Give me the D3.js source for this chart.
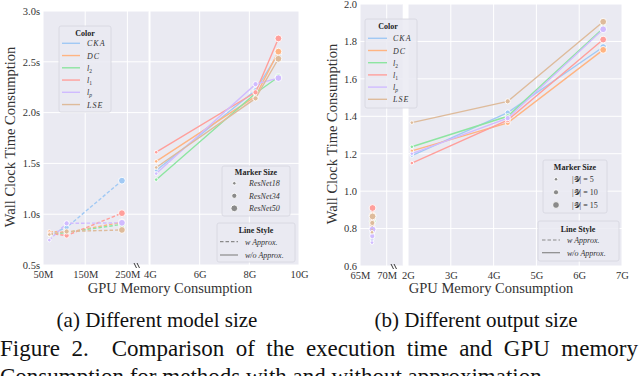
<!DOCTYPE html>
<html>
<head>
<meta charset="utf-8">
<script src="https://cdn.jsdelivr.net/npm/d3@7"></script>
<style>
body { margin: 0; background: #fff; }
svg { display: block; font-family: "Liberation Serif", serif; }
</style>
</head>
<body>
<svg id="canvas"></svg>
<script>
const methods = ["CKA", "DC", "l2", "l1", "lp", "LSE"];
const methodColors = ["#a1c9f4", "#ffb482", "#8de5a1", "#ff9f9b", "#d0bbff", "#debb9b"];
const markerSizes = [1.8, 2.6, 3.4];

// (a) different model size
const modelNames = ["ResNet18", "ResNet34", "ResNet50"];
const modelMemApprox = [65e6, 106e6, 237e6];
const modelMemExact = [4.25e9, 8.25e9, 9.17e9];
const modelTimeApprox = [
    [0.80, 0.87, 1.33],
    [0.83, 0.82, 0.92],
    [0.80, 0.82, 0.90],
    [0.81, 0.79, 1.01],
    [0.745, 0.91, 0.915],
    [0.80, 0.83, 0.845]
];
const modelTimeExact = [
    [1.43, 2.22, 2.58],
    [1.52, 2.16, 2.60],
    [1.34, 2.19, 2.35],
    [1.61, 2.20, 2.73],
    [1.40, 2.28, 2.34],
    [1.46, 2.14, 2.53]
];

// (b) different output size
const outputNames = ["|\u{1D4B4}| = 5", "|\u{1D4B4}| = 10", "|\u{1D4B4}| = 15"];
const outputMemApprox = [67.25e6, 67.3e6, 67.35e6];
const outputMemExact = [2.09e9, 4.33e9, 6.56e9];
const outputTimeApprox = [
    [0.74, 0.78, 0.80],
    [0.76, 0.82, 0.87],
    [0.75, 0.80, 0.84],
    [0.80, 0.85, 0.91],
    [0.725, 0.76, 0.795],
    [0.78, 0.83, 0.865]
];
const outputTimeExact = [
    [1.19, 1.42, 1.77],
    [1.215, 1.365, 1.755],
    [1.237, 1.40, 1.87],
    [1.15, 1.38, 1.81],
    [1.20, 1.39, 1.865],
    [1.366, 1.48, 1.905]
];

const bg = "#eaeaf2";
const svg = d3.select("#canvas").attr("width", 640).attr("height", 376);

const fmtM = d => d / 1e6 + "M";
const fmtG = d => d / 1e9 + "G";

function methodLabel(text, name) {
    const parts = {
        CKA: ["CKA", null], DC: ["DC", null], LSE: ["LSE", null],
        l2: ["l", "2"], l1: ["l", "1"], lp: ["l", "p"]
    }[name];
    text.append("tspan").style("font-style", "italic")
        .attr("letter-spacing", parts[1] ? 0 : 1).text(parts[0]);
    if (parts[1]) {
        text.append("tspan").attr("dy", 2).style("font-size", "5.5px")
            .style("font-style", parts[1] === "p" ? "italic" : "normal").text(parts[1]);
    }
}

function legendFrame(g, box, title, titleX, titleY) {
    g.append("rect")
        .attr("x", box[0]).attr("y", box[1]).attr("width", box[2]).attr("height", box[3])
        .attr("rx", 2).attr("fill", bg).attr("fill-opacity", 0.85)
        .attr("stroke", "#d6d6de").attr("stroke-width", 0.8);
    g.append("text").attr("x", titleX).attr("y", titleY)
        .attr("text-anchor", "middle").style("font-size", "8px").style("font-weight", "bold")
        .attr("fill", "#222").text(title);
}

function drawChart(cfg) {
    const g = svg.append("g");
    const { xL, xR, y } = cfg;
    const top = y.range()[1], bottom = y.range()[0];

    // panel backgrounds
    [xL, xR].forEach(x => {
        g.append("rect")
            .attr("x", x.range()[0]).attr("y", top)
            .attr("width", x.range()[1] - x.range()[0]).attr("height", bottom - top)
            .attr("fill", bg);
    });

    // grid
    [[xL, cfg.xLTicks], [xR, cfg.xRTicks]].forEach(([x, ticks]) => {
        g.append("g").selectAll("line").data(ticks).join("line")
            .attr("x1", d => x(d)).attr("x2", d => x(d))
            .attr("y1", top).attr("y2", bottom)
            .attr("stroke", "#fff").attr("stroke-width", 1);
        g.append("g").selectAll("line").data(cfg.yTicks).join("line")
            .attr("x1", x.range()[0]).attr("x2", x.range()[1])
            .attr("y1", d => y(d)).attr("y2", d => y(d))
            .attr("stroke", "#fff").attr("stroke-width", 1);
    });

    // axes
    const axisStyle = a => a.call(s => s.select(".domain").remove())
        .selectAll("text").style("font-size", "10.5px")
        .style("font-family", "Liberation Serif, serif").attr("fill", "#333");
    g.append("g").attr("transform", `translate(0,${bottom})`)
        .call(d3.axisBottom(xL).tickValues(cfg.xLTicks).tickFormat(fmtM).tickSize(0).tickPadding(6))
        .call(axisStyle);
    g.append("g").attr("transform", `translate(0,${bottom})`)
        .call(d3.axisBottom(xR).tickValues(cfg.xRTicks).tickFormat(fmtG).tickSize(0).tickPadding(6))
        .call(axisStyle);
    g.append("g").attr("transform", `translate(${xL.range()[0]},0)`)
        .call(d3.axisLeft(y).tickValues(cfg.yTicks).tickFormat(cfg.yFmt).tickSize(0).tickPadding(3))
        .call(axisStyle);

    // break marks
    const bx = cfg.breakX, by = bottom + 1;
    [0, 3].forEach(off => {
        g.append("line")
            .attr("x1", bx + off - 2).attr("y1", by - 3)
            .attr("x2", bx + off + 0.5).attr("y2", by + 2)
            .attr("stroke", "#222").attr("stroke-width", 0.9);
    });

    // axis labels
    g.append("text").attr("x", cfg.xLabelX).attr("y", 293)
        .attr("text-anchor", "middle").style("font-size", "14.5px").attr("fill", "#333")
        .text("GPU Memory Consumption");
    g.append("text")
        .attr("transform", `translate(${cfg.yLabelX},${cfg.yLabelY}) rotate(-90)`)
        .attr("text-anchor", "middle").style("font-size", "14.5px").attr("fill", "#333")
        .text("Wall Clock Time Consumption");

    // series
    methods.forEach((m, i) => {
        const col = methodColors[i];
        const approx = cfg.memApprox.map((v, k) => [xL(v), y(cfg.timeApprox[i][k]), k]);
        const exact = cfg.memExact.map((v, k) => [xR(v), y(cfg.timeExact[i][k]), k]);
        const line = d3.line().x(d => d[0]).y(d => d[1]);
        g.append("path").attr("d", line(approx)).attr("fill", "none")
            .attr("stroke", col).attr("stroke-width", 1.4).attr("stroke-dasharray", "3.5,2");
        g.append("path").attr("d", line(exact)).attr("fill", "none")
            .attr("stroke", col).attr("stroke-width", 1.4);
        g.append("g").selectAll("circle").data(approx.concat(exact)).join("circle")
            .attr("cx", d => d[0]).attr("cy", d => d[1]).attr("r", d => markerSizes[d[2]])
            .attr("fill", col).attr("stroke", "#fff").attr("stroke-width", 0.9);
    });

    // color legend
    const cl = cfg.colorLegend;
    legendFrame(g, cl.box, "Color", cl.titleX, cl.titleY);
    methods.forEach((m, i) => {
        const ry = cl.row0 + i * cl.step;
        g.append("line").attr("x1", cl.h0).attr("x2", cl.h1).attr("y1", ry).attr("y2", ry)
            .attr("stroke", methodColors[i]).attr("stroke-width", 1.4);
        const t = g.append("text").attr("x", cl.labelX).attr("y", ry + 3)
            .style("font-size", "8px").attr("fill", "#333");
        methodLabel(t, m);
    });

    // marker size legend
    const ml = cfg.markerLegend;
    legendFrame(g, ml.box, "Marker Size", ml.titleX, ml.titleY);
    cfg.sizeNames.forEach((name, k) => {
        const ry = ml.rows[k];
        g.append("circle").attr("cx", ml.markX).attr("cy", ry).attr("r", markerSizes[k])
            .attr("fill", "#8a8a8a").attr("stroke", "#fff").attr("stroke-width", 0.9);
        g.append("text").attr("x", ml.labelX).attr("y", ry + 3)
            .style("font-size", "8px").style("font-style", cfg.sizeItalic ? "italic" : "normal")
            .attr("fill", "#333").text(name);
    });

    // line style legend
    const ll = cfg.lineLegend;
    legendFrame(g, ll.box, "Line Style", ll.titleX, ll.titleY);
    ["w Approx.", "w/o Approx."].forEach((name, k) => {
        const ry = ll.rows[k];
        g.append("line").attr("x1", ll.h0).attr("x2", ll.h1).attr("y1", ry).attr("y2", ry)
            .attr("stroke", "#8a8a8a").attr("stroke-width", 1.2)
            .attr("stroke-dasharray", k === 0 ? "3.5,2" : null);
        g.append("text").attr("x", ll.labelX).attr("y", ry + 3)
            .style("font-size", "8px").style("font-style", "italic")
            .attr("fill", "#333").text(name);
    });
}

drawChart({
    xL: d3.scaleLinear([50e6, 300e6], [43, 148.5]),
    xR: d3.scaleLinear([4e9, 10e9], [150, 299]),
    y: d3.scaleLinear([0.5, 3], [265, 11]),
    xLTicks: [50e6, 150e6, 250e6],
    xRTicks: [4e9, 6e9, 8e9, 10e9],
    yTicks: [0.5, 1, 1.5, 2, 2.5, 3],
    yFmt: d => d3.format(".1f")(d) + "s",
    memApprox: modelMemApprox, memExact: modelMemExact,
    timeApprox: modelTimeApprox, timeExact: modelTimeExact,
    sizeNames: modelNames, sizeItalic: true,
    breakX: 136, xLabelX: 170, yLabelX: 15, yLabelY: 137,
    colorLegend: { box: [59, 26, 52, 86], titleX: 85, titleY: 36, row0: 43.3, step: 12.25, h0: 62, h1: 80, labelX: 87 },
    markerLegend: { box: [222, 166, 68, 50], titleX: 256, titleY: 175, rows: [183.3, 195.8, 208.3], markX: 234.3, labelX: 249 },
    lineLegend: { box: [217, 223, 78, 39], titleX: 256, titleY: 233, rows: [241.7, 255], h0: 220, h1: 238, labelX: 245 }
});

drawChart({
    xL: d3.scaleLinear([65e6, 73e6], [360, 402.7]),
    xR: d3.scaleLinear([2e9, 7e9], [408, 622]),
    y: d3.scaleLinear([0.6, 2.0], [266, 4]),
    xLTicks: [65e6, 70e6],
    xRTicks: [2e9, 3e9, 4e9, 5e9, 6e9, 7e9],
    yTicks: [0.6, 0.8, 1.0, 1.2, 1.4, 1.6, 1.8, 2.0],
    yFmt: d3.format(".1f"),
    memApprox: outputMemApprox, memExact: outputMemExact,
    timeApprox: outputTimeApprox, timeExact: outputTimeExact,
    sizeNames: outputNames, sizeItalic: false,
    breakX: 393, xLabelX: 491, yLabelX: 337, yLabelY: 134,
    colorLegend: { box: [365, 19, 52, 89], titleX: 388, titleY: 29, row0: 38.3, step: 12.2, h0: 368, h1: 387, labelX: 393 },
    markerLegend: { box: [543, 160, 64, 53], titleX: 575, titleY: 170, rows: [179.3, 192.3, 205], markX: 556, labelX: 572 },
    lineLegend: { box: [538, 221, 81, 40], titleX: 578, titleY: 231.5, rows: [240, 252.7], h0: 542, h1: 560, labelX: 567 }
});

// captions
svg.append("text").attr("x", 157).attr("y", 327).attr("text-anchor", "middle")
    .style("font-size", "21px").attr("fill", "#111").text("(a) Different model size");
svg.append("text").attr("x", 476).attr("y", 327).attr("text-anchor", "middle")
    .style("font-size", "21px").attr("fill", "#111").text("(b) Different output size");

// justified caption line: stretch word spaces to the column width
const capLine = "Figure 2.  Comparison of the execution time and GPU memory";
const cap = svg.append("text").attr("x", 0).attr("y", 356)
    .style("font-size", "23px").style("white-space", "pre").attr("fill", "#111")
    .text(capLine);
const natural = cap.node().getComputedTextLength();
const gaps = capLine.split(" ").length - 1;
cap.attr("word-spacing", Math.max(0, (638 - natural) / gaps));

svg.append("text").attr("x", 0).attr("y", 384)
    .style("font-size", "23px").attr("fill", "#111")
    .text("Consumption for methods with and without approximation.");
</script>
</body>
</html>
